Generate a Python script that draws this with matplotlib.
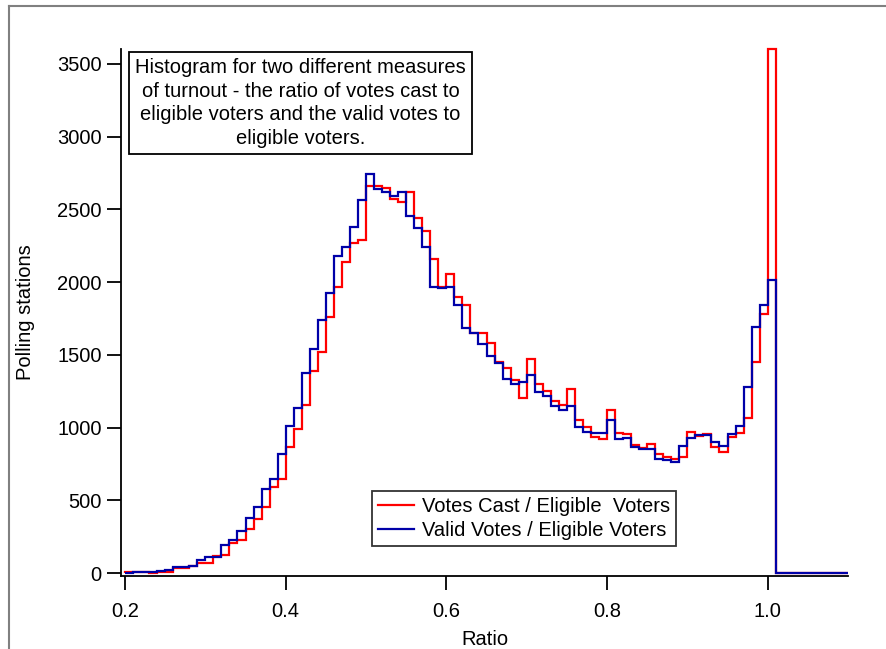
"""Turnout histogram: votes cast vs valid votes, relative to eligible voters"""
import matplotlib
matplotlib.use("Agg")
import matplotlib.pyplot as plt
from matplotlib.lines import Line2D
import numpy as np

plt.rcParams["font.family"] = ["Liberation Sans", "DejaVu Sans"]

# histogram bins: 0.20 .. 1.10, width 0.01
bin_lo = 0.20
bin_hi = 1.10
n_bins = 90

# polling station counts per bin
votes_cast = [
    5, 8, 8, 3, 10, 10, 35, 35, 47, 72,
    72, 117, 121, 204, 227, 302, 374, 452, 594, 646,
    869, 992, 1155, 1391, 1517, 1758, 1964, 2141, 2267, 2290,
    2661, 2661, 2645, 2569, 2553, 2618, 2439, 2350, 2160, 1968,
    2054, 1900, 1843, 1648, 1648, 1579, 1453, 1412, 1327, 1206,
    1475, 1302, 1251, 1183, 1155, 1263, 1052, 1002, 937, 919,
    1121, 960, 955, 880, 857, 885, 818, 800, 786, 795,
    972, 944, 954, 869, 834, 933, 960, 1068, 1453, 1781,
    3603, 0, 0, 0, 0, 0, 0, 0, 0, 0,
]
valid_votes = [
    3, 10, 10, 5, 14, 23, 41, 41, 50, 87,
    110, 110, 193, 227, 291, 378, 452, 578, 646, 822,
    1011, 1132, 1377, 1542, 1740, 1923, 2180, 2244, 2381, 2565,
    2744, 2638, 2622, 2595, 2620, 2457, 2370, 2239, 1970, 1963,
    1969, 1843, 1682, 1648, 1572, 1492, 1446, 1334, 1300, 1316,
    1359, 1246, 1217, 1151, 1121, 1148, 1006, 967, 960, 960,
    1052, 919, 926, 869, 850, 850, 784, 777, 761, 873,
    926, 949, 949, 901, 876, 956, 1009, 1277, 1694, 1840,
    2015, 0, 0, 0, 0, 0, 0, 0, 0, 0,
]

x_ticks = [0.2, 0.4, 0.6, 0.8, 1.0]
y_ticks = [0, 500, 1000, 1500, 2000, 2500, 3000, 3500]

FS = 14.5
W, H = 886, 649
fig = plt.figure(figsize=(W / 100, H / 100), dpi=100)
ax = fig.add_axes([121 / W, 1 - 576 / H, 727 / W, 527 / H])

edges = np.linspace(bin_lo, bin_hi, n_bins + 1)
ax.stairs(votes_cast, edges, color="#FF0000", lw=1.6, clip_on=False,
          label="Votes Cast / Eligible  Voters")
ax.stairs(valid_votes, edges, color="#0000A8", lw=1.6, clip_on=False,
          label="Valid Votes / Eligible Voters")

ax.set_xlim(0.195, 1.10)
ax.set_ylim(-20, max(votes_cast))
ax.set_xticks(x_ticks)
ax.set_xticklabels([f"{t:.1f}" for t in x_ticks])
ax.set_yticks(y_ticks)

for s in ("top", "right"):
    ax.spines[s].set_visible(False)
for s in ("left", "bottom"):
    ax.spines[s].set_linewidth(1.3)
ax.tick_params(direction="out", length=10, width=1.3, labelsize=FS)
ax.tick_params(axis="x", pad=9)
ax.tick_params(axis="y", pad=4)

ax.set_xlabel("Ratio", fontsize=FS, va="center")
ax.xaxis.set_label_coords(0.5, -0.12)
ax.set_ylabel("Polling stations", fontsize=FS, va="center")
ax.yaxis.set_label_coords(-0.132, 0.5)

leg = ax.legend(loc="lower left", bbox_to_anchor=(0.345, 0.057), fontsize=FS,
                frameon=True, fancybox=False, edgecolor="black",
                handlelength=1.8, handletextpad=0.4, borderpad=0.3,
                labelspacing=0.22, borderaxespad=0)
leg.get_frame().set_linewidth(1.3)

fig.text(300.4 / W, 1 - 103 / H,
         "Histogram for two different measures\n"
         "of turnout - the ratio of votes cast to\n"
         "eligible voters and the valid votes to\n"
         "eligible voters.",
         ha="center", va="center", multialignment="center", fontsize=FS,
         linespacing=1.3,
         bbox=dict(boxstyle="square,pad=0.3", fc="white", ec="black", lw=1.3))

# grey frame around the graph window
fig.add_artist(Line2D([9 / W, 9 / W], [0, 1 - 6 / H], transform=fig.transFigure,
                      color="#808080", lw=1.5))
fig.add_artist(Line2D([9 / W, 1], [1 - 6 / H, 1 - 6 / H], transform=fig.transFigure,
                      color="#808080", lw=1.5))

fig.savefig("out.png", dpi=100)
